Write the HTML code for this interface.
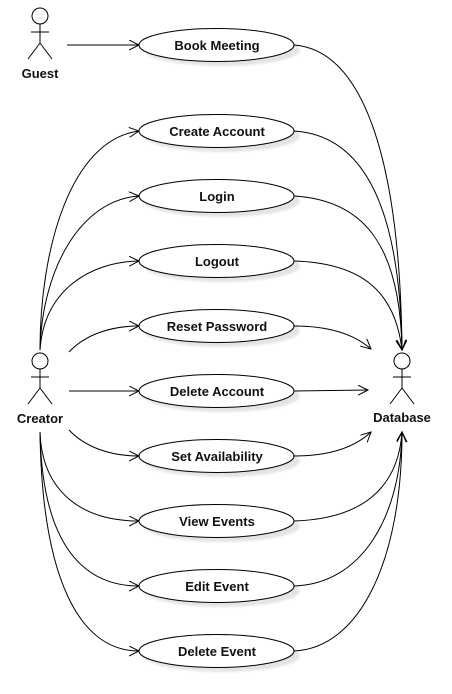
<!DOCTYPE html>
<html><head><style>
body{margin:0;background:#fff}
text{font-family:"Liberation Sans",sans-serif;font-weight:bold;font-size:13px;fill:#111}
</style></head><body>
<svg width="452" height="689" xmlns="http://www.w3.org/2000/svg">
<defs>
<marker id="a" markerWidth="12" markerHeight="12" refX="10" refY="5" orient="auto" markerUnits="userSpaceOnUse">
<path d="M0,0 L10,5 L0,10" fill="none" stroke="#000" stroke-width="1"/>
</marker>
<filter id="s"><feGaussianBlur stdDeviation="1"/></filter>
</defs>
<g fill="none" stroke="#000" stroke-width="1">
<!-- actors -->
<g id="act">
<circle cx="40" cy="16" r="8"/>
<path d="M40 24 V43 M31 32 H49 M40 43 L28 59 M40 43 L52 59"/>
</g>
<g transform="translate(0,345)"><circle cx="40" cy="16" r="8"/><path d="M40 24 V43 M31 32 H49 M40 43 L28 59 M40 43 L52 59"/></g>
<g transform="translate(362,345)"><circle cx="40" cy="16" r="8"/><path d="M40 24 V43 M31 32 H49 M40 43 L28 59 M40 43 L52 59"/></g>

<!-- left connectors -->
<path d="M67 45 H139" marker-end="url(#a)"/>
<path d="M40 350 C40 250 70 140 139 131" marker-end="url(#a)"/>
<path d="M40 350 C42 270 80 200 139 196" marker-end="url(#a)"/>
<path d="M40 350 C44 290 90 262 139 261" marker-end="url(#a)"/>
<path d="M69 352 C85 335 110 326 139 326" marker-end="url(#a)"/>
<path d="M69 391 H139" marker-end="url(#a)"/>
<path d="M69 430 C85 447 110 456 139 456" marker-end="url(#a)"/>
<path d="M40 432 C42 490 80 521 139 521" marker-end="url(#a)"/>
<path d="M40 432 C42 540 80 586 139 586" marker-end="url(#a)"/>
<path d="M40 432 C42 580 80 651 139 651" marker-end="url(#a)"/>

<!-- right connectors -->
<path d="M294 45 C360 50 400 150 402 350" marker-end="url(#a)"/>
<path d="M294 131 C360 135 400 200 402 350" marker-end="url(#a)"/>
<path d="M294 196 C360 200 400 240 402 350" marker-end="url(#a)"/>
<path d="M294 261 C360 263 395 290 402 350" marker-end="url(#a)"/>
<path d="M294 326 C330 326 355 335 371 349" marker-end="url(#a)"/>
<path d="M294 391 L368 390" marker-end="url(#a)"/>
<path d="M294 456 C330 456 355 447 371 432" marker-end="url(#a)"/>
<path d="M294 521 C360 519 398 490 402 432" marker-end="url(#a)"/>
<path d="M294 586 C360 584 400 520 402 432" marker-end="url(#a)"/>
<path d="M294 651 C360 648 402 560 402 432" marker-end="url(#a)"/>
</g>

<g>
<g fill="#000" opacity="0.1" filter="url(#s)">
<ellipse cx="222" cy="50" rx="78" ry="16"/><ellipse cx="222" cy="136" rx="78" ry="16"/><ellipse cx="222" cy="201" rx="78" ry="16"/><ellipse cx="222" cy="266" rx="78" ry="16"/><ellipse cx="222" cy="331" rx="78" ry="16"/><ellipse cx="222" cy="396" rx="78" ry="16"/><ellipse cx="222" cy="461" rx="78" ry="16"/><ellipse cx="222" cy="526" rx="78" ry="16"/><ellipse cx="222" cy="591" rx="78" ry="16"/><ellipse cx="222" cy="656" rx="78" ry="16"/>
</g>
<g fill="#fff" stroke="#000">
<ellipse cx="216.5" cy="45" rx="77.5" ry="16.5"/><ellipse cx="216.5" cy="131" rx="77.5" ry="16.5"/><ellipse cx="216.5" cy="196" rx="77.5" ry="16.5"/><ellipse cx="216.5" cy="261" rx="77.5" ry="16.5"/><ellipse cx="216.5" cy="326" rx="77.5" ry="16.5"/><ellipse cx="216.5" cy="391" rx="77.5" ry="16.5"/><ellipse cx="216.5" cy="456" rx="77.5" ry="16.5"/><ellipse cx="216.5" cy="521" rx="77.5" ry="16.5"/><ellipse cx="216.5" cy="586" rx="77.5" ry="16.5"/><ellipse cx="216.5" cy="651" rx="77.5" ry="16.5"/>
</g>
</g>

<g text-anchor="middle">
<text x="217" y="50">Book Meeting</text>
<text x="217" y="136">Create Account</text>
<text x="217" y="201">Login</text>
<text x="217" y="266">Logout</text>
<text x="217" y="331">Reset Password</text>
<text x="217" y="396">Delete Account</text>
<text x="217" y="461">Set Availability</text>
<text x="217" y="526">View Events</text>
<text x="217" y="591">Edit Event</text>
<text x="217" y="656">Delete Event</text>
<text x="40" y="78">Guest</text>
<text x="40" y="423">Creator</text>
<text x="402" y="422">Database</text>
</g>
</svg>
</body></html>
